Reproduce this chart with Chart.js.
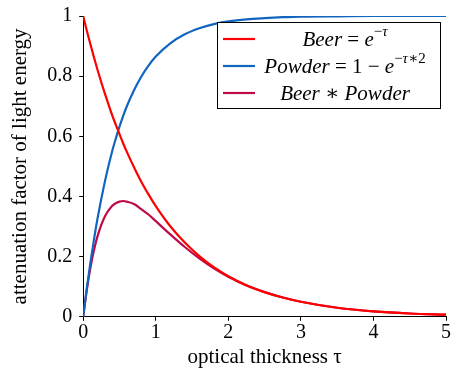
<!DOCTYPE html>
<html><head><meta charset="utf-8">
<script src="https://cdn.jsdelivr.net/npm/chart.js@4/dist/chart.umd.min.js"></script>
<style>html,body{margin:0;padding:0;background:#fff}#wrap{width:452px;height:370px}</style>
</head><body><div id="wrap"><canvas id="c" width="452" height="370"></canvas></div>
<script>
const tau = [0,0.05,0.1,0.15,0.2,0.3,0.4,0.45,0.5,0.55,0.6,0.7,0.8,0.9,1.0,1.2,1.4,1.6,1.8,2.0,2.25,2.5,2.75,3.0,3.5,4.0,4.5,5.0];
const beer = [1.000,0.951,0.905,0.861,0.819,0.741,0.670,0.638,0.607,0.577,0.549,0.497,0.449,0.407,0.368,0.301,0.247,0.202,0.165,0.135,0.105,0.082,0.064,0.050,0.030,0.018,0.011,0.007];
const powder = [0,0.095,0.181,0.259,0.330,0.451,0.551,0.593,0.632,0.667,0.699,0.753,0.798,0.835,0.865,0.909,0.939,0.959,0.973,0.982,0.989,0.993,0.996,0.998,0.999,1.000,1.000,1.000];
const beerPowder = [0,0.090,0.164,0.223,0.270,0.334,0.369,0.378,0.383,0.385,0.383,0.375,0.358,0.340,0.318,0.274,0.232,0.194,0.161,0.133,0.104,0.082,0.064,0.050,0.030,0.018,0.011,0.007];
const xTicks = [0,1,2,3,4,5];
const yTicks = [0,0.2,0.4,0.6,0.8,1];
const xTitle = 'optical thickness τ';
const yTitle = 'attenuation factor of light energy';

const COLORS = ['rgb(255,0,0)','rgb(18,101,190)','rgb(190,10,75)'];
const FONT = '"Liberation Serif", "DejaVu Serif", serif';

const legendRows = [
  [{t:'Beer',s:'i'},{t:' = ',s:'n'},{t:'e',s:'i'},{t:'−',s:'supn'},{t:'τ',s:'supi'}],
  [{t:'Powder',s:'i'},{t:' = 1 − ',s:'n'},{t:'e',s:'i'},{t:'−',s:'supn'},{t:'τ',s:'supi'},{t:'∗2',s:'supn'}],
  [{t:'Beer',s:'i'},{t:' ∗ ',s:'n'},{t:'Powder',s:'i'}]
];

function segFont(s){
  if (s==='i') return 'italic 21px '+FONT;
  if (s==='n') return '21px '+FONT;
  if (s==='supi') return 'italic 15px '+FONT;
  return '15px '+FONT;
}

const legendPlugin = {
  id:'mathLegend',
  afterDraw(chart){
    const ctx = chart.ctx;
    ctx.save();
    const bx=217, by=22, bw=223, bh=86;
    ctx.fillStyle='#fff';
    ctx.fillRect(bx,by,bw,bh);
    ctx.strokeStyle='#000'; ctx.lineWidth=1;
    ctx.strokeRect(bx+0.5,by+0.5,bw,bh);
    const rowsY=[39,66,93];
    legendRows.forEach((row,i)=>{
      const y=rowsY[i];
      ctx.strokeStyle=COLORS[i]; ctx.lineWidth=2.2;
      ctx.beginPath(); ctx.moveTo(223,y); ctx.lineTo(255,y); ctx.stroke();
      let w=0;
      row.forEach(seg=>{ctx.font=segFont(seg.s); w+=ctx.measureText(seg.t).width;});
      let x=345-w/2;
      ctx.fillStyle='#000'; ctx.textBaseline='alphabetic';
      row.forEach(seg=>{
        ctx.font=segFont(seg.s);
        const yy = seg.s.startsWith('sup') ? y-3 : y+7;
        ctx.fillText(seg.t,x,yy);
        x+=ctx.measureText(seg.t).width;
      });
    });
    ctx.restore();
  }
};

const mk = (label,data,i)=>({
  label, data: tau.map((t,k)=>({x:t,y:data[k]})),
  borderColor:COLORS[i], backgroundColor:COLORS[i], borderWidth:2.2,
  pointRadius:0, cubicInterpolationMode:'monotone', fill:false
});

new Chart(document.getElementById('c'),{
  type:'line',
  data:{datasets:[mk('Beer',beer,0),mk('Powder',powder,1),mk('Beer*Powder',beerPowder,2)]},
  options:{
    responsive:false, animation:false, devicePixelRatio:1,
    layout:{padding:{left:8,right:6,top:0,bottom:0}},
    plugins:{legend:{display:false},tooltip:{enabled:false}},
    scales:{
      x:{type:'linear',min:0,max:5,
        afterBuildTicks:(ax)=>{ax.ticks=xTicks.map(v=>({value:v}));},
        ticks:{color:'#000',font:{family:FONT,size:20},padding:0,callback:v=>String(v)},
        grid:{display:true,drawOnChartArea:false,color:'#000',tickLength:4},
        border:{display:true,color:'#000',width:1},
        title:{display:true,text:xTitle,color:'#000',font:{family:FONT,size:21},padding:{top:0,bottom:0}}
      },
      y:{type:'linear',min:0,max:1,
        afterBuildTicks:(ax)=>{ax.ticks=yTicks.map(v=>({value:v}));},
        ticks:{color:'#000',font:{family:FONT,size:20,lineHeight:0.9},padding:7,callback:v=>String(Math.round(v*10)/10)},
        grid:{display:true,drawOnChartArea:false,color:'#000',tickLength:4},
        border:{display:true,color:'#000',width:1},
        title:{display:true,text:yTitle,color:'#000',font:{family:FONT,size:21},padding:{top:0,bottom:7}}
      }
    }
  },
  plugins:[legendPlugin]
});
</script></body></html>
